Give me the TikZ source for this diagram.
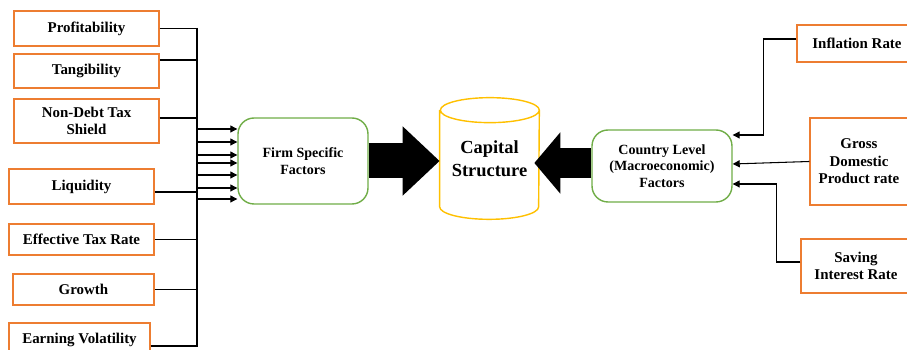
\documentclass[tikz,border=0pt]{standalone}
\usepackage{fontspec}
\setmainfont{Liberation Serif}
\usetikzlibrary{arrows.meta}
\definecolor{factorline}{HTML}{ED7D31}
\definecolor{groupline}{HTML}{70AD47}
\definecolor{capline}{HTML}{FFC000}
\tikzset{
  factor/.style={draw=factorline, line width=0.8pt, fill=white, align=center,
    inner sep=1pt, font=\bfseries\fontsize{8.5}{10}\selectfont},
  group/.style={draw=groupline, line width=0.8pt, fill=white, rounded corners=0.32cm,
    align=center, font=\bfseries\fontsize{8}{9.5}\selectfont},
  link/.style={line width=0.6pt},
  feed/.style={link, -{Triangle[length=4pt,width=4pt]}},
  capend/.style={x radius=0.99cm, y radius=0.25cm},
}

\begin{document}
\begin{tikzpicture}[x=0.02cm, y=-0.02cm]
  \useasboundingbox (0,0) rectangle (907,350);
  % firm level factors
  \node[factor, minimum width=2.9cm, minimum height=0.7cm] (prof) at (86.5,28.5) {Profitability};
  \node[factor, minimum width=2.9cm, minimum height=0.68cm] (tang) at (86.5,71) {Tangibility};
  \node[factor, minimum width=2.9cm, minimum height=0.88cm] (nondebt) at (86.5,121) {Non-Debt Tax\\Shield};
  \node[factor, minimum width=2.9cm, minimum height=0.7cm] (liq) at (81.5,186.5) {Liquidity};
  \node[factor, minimum width=2.9cm, minimum height=0.62cm] (eff) at (81.5,239.5) {Effective Tax Rate};
  \node[factor, minimum width=2.82cm, minimum height=0.62cm] (growth) at (83.5,289.5) {Growth};
  \node[factor, minimum width=2.82cm, minimum height=0.68cm] (earn) at (79.5,340) {Earning Volatility};
  % country level factors
  \node[factor, minimum width=2.4cm, minimum height=0.74cm] (infl) at (857,43.5) {Inflation Rate};
  \node[factor, minimum width=1.96cm, minimum height=1.74cm] (gdp) at (859,161.5) {Gross\\Domestic\\Product rate};
  \node[factor, minimum width=2.2cm, minimum height=1.08cm] (saving) at (856,266) {Saving\\Interest Rate};
  % groups and outcome
  \node[group, minimum width=2.6cm, minimum height=1.72cm] (firm) at (303,161) {Firm Specific\\Factors};
  \node[group, minimum width=2.8cm, minimum height=1.44cm] (country) at (662,166) {Country Level\\(Macroeconomic)\\Factors};
  \node[minimum width=1.98cm, minimum height=2.42cm, align=center,
    font=\bfseries\fontsize{10.5}{13}\selectfont] (cap) at (489.5,158.5) {Capital\\Structure};
  \draw[capline, line width=0.8pt] ([yshift=-0.25cm]cap.north west) -- ([yshift=0.25cm]cap.south west)
    arc[start angle=180, end angle=360, capend] -- ([yshift=-0.25cm]cap.north east)
    arc[start angle=0, end angle=360, capend];
  % bus on the left
  \coordinate (bustop) at (197,28);
  \coordinate (busbot) at (197,346);
  \draw[link] (bustop) -- (busbot);
  \foreach \f/\dy in {prof/0, tang/0.22, nondebt/0.06, liq/-0.11, eff/0, growth/0, earn/-0.12}
    \draw[link] ([yshift=\dy cm]\f.east) -| (bustop);
  \foreach \dy in {-32,-19,-6,2,14,27,38}
    \draw[feed] (firm.west) ++(-41,\dy) -- ++(41,0);
  % right side
  \draw[feed] ([yshift=0.09cm]infl.west) -- ++(-33,0) |- ([yshift=0.62cm]country.east);
  \draw[feed] (gdp.west) -- ([yshift=0.04cm]country.east);
  \draw[feed] ([yshift=0.08cm]saving.west) -- ++(-24,0) |- ([yshift=-0.36cm]country.east);
  % big arrows
  \draw[line width=0.7cm, -{Triangle[length=0.74cm,width=1.34cm]}] (firm.east) -- (firm.east -| cap.west);
  \draw[line width=0.6cm, -{Triangle[length=0.52cm,width=1.2cm]}] ([yshift=0.06cm]country.west) -- ([xshift=-0.1cm,yshift=0.06cm]country.west -| cap.east);
\end{tikzpicture}
\end{document}
